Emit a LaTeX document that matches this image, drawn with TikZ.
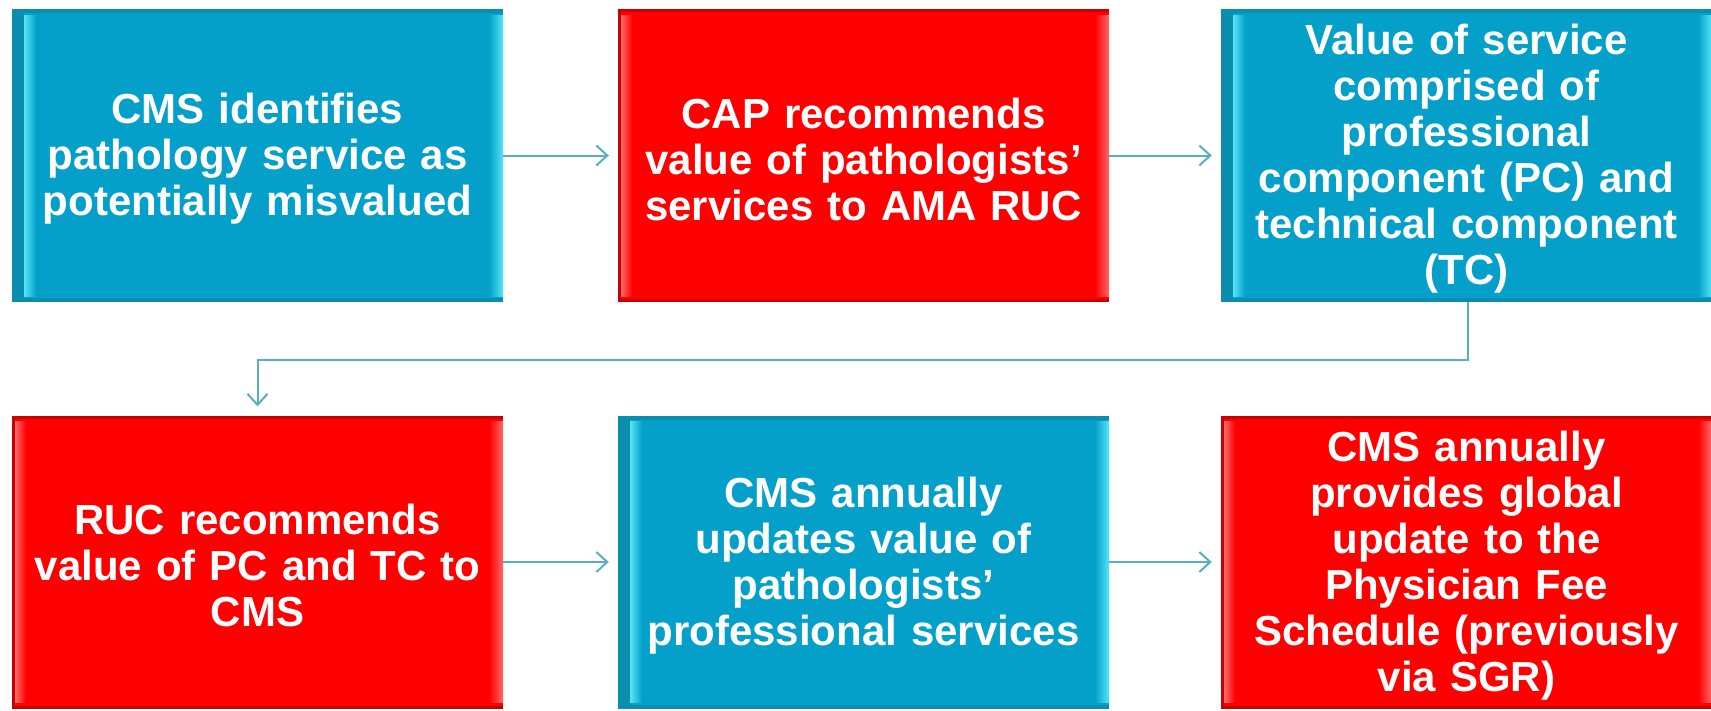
\documentclass[tikz,border=0pt]{standalone}
\usepackage{fontspec}
\setmainfont{Liberation Sans}
\usetikzlibrary{arrows.meta}
\definecolor{bmain}{HTML}{05A0CA}
\definecolor{bdark}{HTML}{0B8EAE}
\definecolor{blight}{HTML}{55E6F6}
\definecolor{rmain}{HTML}{FF0000}
\definecolor{rdark}{HTML}{C80000}
\definecolor{rlight}{HTML}{FF6A6A}
\definecolor{conn}{HTML}{5AAEC2}
\tikzset{
  boxbase/.style={minimum width=491pt, minimum height=293pt, inner sep=0pt},
  boxtext/.style={inner sep=0pt, text width=470pt, align=center, text=white,
    font=\bfseries\fontsize{42}{46}\selectfont, yshift=-3.5pt},
  bluebox/.style={boxbase, fill=bmain,
    path picture={
      \fill[bdark] (path picture bounding box.north west) rectangle ([xshift=12pt]path picture bounding box.south west);
      \shade[left color=blight, right color=bmain] ([xshift=12pt,yshift=-6pt]path picture bounding box.north west) rectangle ([xshift=24pt,yshift=6pt]path picture bounding box.south west);
      \shade[left color=bmain, right color=blight] ([xshift=-14pt,yshift=-6pt]path picture bounding box.north east) rectangle ([yshift=6pt]path picture bounding box.south east);
      \fill[bdark] (path picture bounding box.north west) rectangle ([yshift=-4pt]path picture bounding box.north east);
      \fill[bdark] (path picture bounding box.south west) rectangle ([yshift=4pt]path picture bounding box.south east);
    }},
  redbox/.style={boxbase, fill=rmain,
    path picture={
      \fill[rdark] (path picture bounding box.north west) rectangle ([xshift=3pt]path picture bounding box.south west);
      \shade[left color=rlight, right color=rmain] ([xshift=3pt,yshift=-6pt]path picture bounding box.north west) rectangle ([xshift=14pt,yshift=6pt]path picture bounding box.south west);
      \shade[left color=rmain, right color=rlight] ([xshift=-14pt,yshift=-6pt]path picture bounding box.north east) rectangle ([yshift=6pt]path picture bounding box.south east);
      \fill[rdark] (path picture bounding box.north west) rectangle ([yshift=-3pt]path picture bounding box.north east);
      \fill[rdark] (path picture bounding box.south west) rectangle ([yshift=3pt]path picture bounding box.south east);
    }},
  flow/.style={draw=conn, line width=2pt, -{Straight Barb[length=11pt,width=20pt,line width=2pt]}, shorten >=9pt}
}
\begin{document}
\begin{tikzpicture}[x=1pt,y=-1pt]
\useasboundingbox (0,0) rectangle (1711,710);
\fill[white] (0,0) rectangle (1711,710);
\node[bluebox] (b1) at (257.5,155.5) {};
\node[redbox] (b2) at (863.5,155.5) {};
\node[bluebox] (b3) at (1466.5,155.5) {};
\node[redbox] (b4) at (257.5,562) {};
\node[bluebox] (b5) at (863.5,562) {};
\node[redbox] (b6) at (1466.5,562) {};
\node[boxtext] (t1) at (b1.center) {CMS identifies\\pathology service as\\potentially misvalued};
\node[boxtext] (t2) at (b2.center) {CAP recommends\\value of pathologists'\\services to AMA RUC};
\node[boxtext] (t3) at (b3.center) {Value of service\\comprised of\\professional\\component (PC) and\\technical component\\(TC)};
\node[boxtext] (t4) at (b4.center) {RUC recommends\\value of PC and TC to\\CMS};
\node[boxtext] (t5) at (b5.center) {CMS annually\\updates value of\\pathologists'\\professional services};
\node[boxtext] (t6) at (b6.center) {CMS annually\\provides global\\update to the\\Physician Fee\\Schedule (previously\\via SGR)};
\coordinate (c1) at (1468,360);
\coordinate (c2) at (257.5,360);
\draw[flow] (b1.east) -- (b2.west);
\draw[flow] (b2.east) -- (b3.west);
\draw[flow] (b3.south -| c1) -- (c1) -- (c2) -- (b4.north);
\draw[flow] (b4.east) -- (b5.west);
\draw[flow] (b5.east) -- (b6.west);
\end{tikzpicture}
\end{document}
